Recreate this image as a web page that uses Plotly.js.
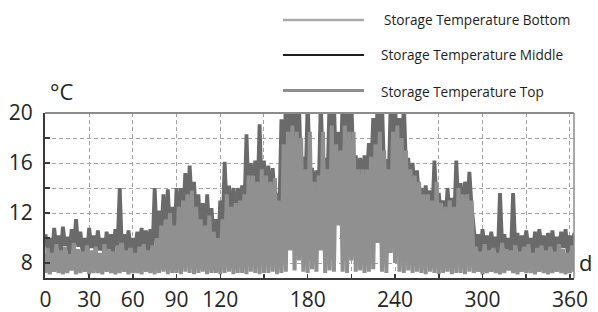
<!DOCTYPE html>
<html>
<head>
<meta charset="utf-8">
<script src="https://cdn.plot.ly/plotly-3.0.1.min.js"></script>
<style>
  html, body { margin: 0; padding: 0; background: #ffffff; }
  #chart { width: 598px; height: 312px; }
</style>
</head>
<body>
<div id="chart"></div>
<script>
// ---- data (one envelope sample every 3 days) ----
const days = [0,3,6,9,12,15,18,21,24,27,30,33,36,39,42,45,48,51,54,57,60,63,66,69,72,75,78,81,84,87,
  90,93,96,99,102,105,108,111,114,117,120,123,126,129,132,135,138,141,144,147,150,153,156,159,162,165,168,171,174,177,
  180,183,186,189,192,195,198,201,204,207,210,213,216,219,222,225,228,231,234,237,240,243,246,249,252,255,258,261,264,267,
  270,273,276,279,282,285,288,291,294,297,300,303,306,309,312,315,318,321,324,327,330,333,336,339,342,345,348,351,354,357,
  360,363];

// Storage Temperature Top: daily peak and trough
const topHigh = [10.3,10.0,10.8,10.2,10.9,10.1,10.7,11.5,10.5,10.0,10.8,10.2,10.6,10.0,10.5,10.3,10.7,14.0,10.3,10.6,
  10.0,10.5,10.8,10.6,10.7,14.0,12.2,13.5,13.9,12.5,14.0,14.0,15.2,15.8,14.5,13.5,12.8,13.5,12.4,11.5,
  13.0,16.1,14.2,14.0,14.0,14.2,18.3,16.0,16.2,19.1,16.2,15.8,15.6,13.6,19.5,21,21,21,21,16.5,
  21,15.6,15.4,21,16.4,21,21,18.5,21,21,21,16.6,16.4,16.6,17.6,19.6,21,21,16.3,21,
  21,19.6,21,16.4,16.0,15.4,14.0,14.2,13.8,16.2,13.6,13.0,14.0,13.2,16.2,14.4,14.5,15.3,10.8,10.3,
  10.7,10.2,10.5,10.1,13.6,10.3,10.0,13.6,10.4,10.2,10.6,10.0,10.5,10.7,10.2,10.4,10.6,10.1,10.5,10.7,
  10.2,10.4];
const topLow = [9.0,8.6,9.2,8.8,9.4,8.7,9.1,9.3,8.8,8.6,9.2,8.9,9.0,8.5,9.1,8.8,9.3,9.0,8.7,9.2,
  8.6,9.0,9.3,8.9,9.1,9.5,10.2,9.8,10.5,9.6,10.8,11.5,12.0,12.5,11.0,10.0,9.8,10.5,9.5,9.2,
  10.2,12.0,11.5,11.0,12.5,12.0,13.0,13.5,13.0,13.5,13.0,12.5,12.8,12.0,14.0,15.0,15.5,15.0,14.5,14.0,
  15.0,13.5,13.5,15.0,14.0,15.5,15.0,15.0,15.5,15.0,15.0,14.0,14.0,14.5,15.0,15.5,15.5,15.0,14.0,15.5,
  15.5,15.0,15.5,14.0,13.5,13.0,12.0,12.2,11.8,12.5,11.5,11.0,11.5,11.0,12.0,11.5,12.0,12.5,9.0,8.7,
  9.2,8.8,9.1,8.6,9.3,8.9,8.7,9.2,8.8,9.0,9.3,8.6,9.0,9.2,8.8,9.1,8.7,9.0,9.2,8.8,
  9.1,8.9];

// Storage Temperature Bottom: daily trough and peak
const bottomLow = [7.2,7.1,7.3,7.2,7.1,7.2,7.4,7.1,7.2,7.3,7.1,7.2,7.2,7.1,7.3,7.2,7.1,7.2,7.3,7.1,
  7.2,7.2,7.1,7.3,7.2,7.1,7.2,7.3,7.1,7.2,7.2,7.1,7.3,7.2,7.1,7.2,7.3,7.1,7.2,7.2,
  7.1,7.2,7.3,7.1,7.2,7.2,7.1,7.3,7.2,7.1,7.2,7.2,7.3,7.1,7.2,7.3,9.0,7.4,8.2,7.3,
  7.2,7.5,7.3,9.0,7.2,7.4,7.3,11.0,7.3,7.2,8.2,7.3,7.4,7.2,7.3,7.5,9.6,7.3,7.2,8.8,
  8.0,7.3,7.2,7.4,7.2,7.3,7.2,7.1,7.3,7.2,7.1,7.2,7.3,7.1,7.2,7.2,7.1,7.3,7.2,7.3,
  7.1,7.2,7.3,7.2,7.1,7.2,7.4,7.2,7.1,7.3,7.2,7.2,7.1,7.3,7.2,7.1,7.2,7.3,7.2,7.1,
  7.2,7.3];
const bottomHigh = [9.2,8.8,9.5,9.0,9.3,8.7,9.6,9.1,8.9,9.4,9.0,9.3,8.8,9.5,9.1,8.9,9.4,9.6,9.0,9.2,
  8.8,9.3,9.5,9.0,9.4,10.0,11.0,11.5,12.0,11.0,12.5,13.0,13.5,13.8,12.5,11.5,11.0,11.8,10.5,10.0,
  11.5,13.5,12.5,12.8,13.0,13.5,15.0,15.0,14.5,15.5,15.0,14.5,14.8,13.0,17.5,18.5,19.0,18.5,18.0,15.5,
  18.5,14.5,15.0,18.5,15.5,19.0,17.5,17.0,19.0,18.5,18.5,15.5,15.5,15.5,16.5,17.5,18.5,17.0,15.5,18.5,
  19.0,18.0,17.0,15.5,15.0,14.5,13.5,13.5,13.0,14.5,12.8,12.5,13.0,12.5,14.0,13.5,13.5,13.0,9.3,8.9,
  9.5,9.0,9.2,8.8,9.6,9.1,9.0,9.4,8.9,9.3,9.5,8.8,9.2,9.4,9.0,9.3,8.9,9.5,9.1,8.8,
  9.4,9.2];

// Storage Temperature Middle: daily trough and peak
const middleLow = [7.8,7.6,7.9,7.7,7.6,7.8,8.0,7.6,7.7,7.9,7.6,7.8,7.7,7.6,7.9,7.8,7.6,7.7,7.9,7.6,
  7.8,7.7,7.6,7.9,7.8,7.6,7.8,7.9,7.6,7.7,7.8,7.6,7.9,7.7,7.6,7.8,7.9,7.6,7.7,7.8,
  7.6,7.7,7.9,7.6,7.8,7.7,7.6,7.9,7.8,7.6,7.7,7.8,7.9,7.6,7.8,7.9,9.4,8.0,8.6,7.9,
  7.8,8.1,7.9,9.4,7.8,8.0,7.9,11.4,7.9,7.8,8.6,7.9,8.0,7.8,7.9,8.1,10.0,7.9,7.8,9.2,
  8.4,7.9,7.8,8.0,7.8,7.9,7.8,7.6,7.9,7.7,7.6,7.8,7.9,7.6,7.7,7.8,7.6,7.9,7.8,7.9,
  7.6,7.7,7.9,7.8,7.6,7.7,8.0,7.8,7.6,7.9,7.7,7.8,7.6,7.9,7.8,7.6,7.7,7.9,7.8,7.6,
  7.7,7.9];
const middleHigh = [8.8,8.4,9.0,8.6,8.9,8.3,9.1,8.7,8.5,9.0,8.6,8.9,8.4,9.0,8.7,8.5,9.0,9.1,8.6,8.8,
  8.4,8.9,9.0,8.6,9.0,9.5,10.5,11.0,11.5,10.5,12.0,12.5,13.0,13.2,12.0,11.0,10.5,11.2,10.0,9.5,
  11.0,13.0,12.0,12.3,12.5,13.0,14.5,14.5,14.0,15.0,14.5,14.0,14.3,12.5,17.0,18.0,18.5,18.0,17.5,15.0,
  18.0,14.0,14.5,18.0,15.0,18.5,17.0,16.5,18.5,18.0,18.0,15.0,15.0,15.0,16.0,17.0,18.0,16.5,15.0,18.0,
  18.5,17.5,16.5,15.0,14.5,14.0,13.0,13.0,12.5,14.0,12.3,12.0,12.5,12.0,13.5,13.0,13.0,12.5,8.9,8.5,
  9.1,8.6,8.8,8.4,9.2,8.7,8.6,9.0,8.5,8.9,9.1,8.4,8.8,9.0,8.6,8.9,8.5,9.1,8.7,8.4,
  9.0,8.8];

const seriesNames = ['Storage Temperature Bottom', 'Storage Temperature Middle', 'Storage Temperature Top'];
const xTicks = [0,30,60,90,120,150,180,210,240,270,300,330,360];
const xTickText = ['0','30','60','90','120','','180','','240','','300','','360'];
const yTicks = [8,10,12,14,16,18,20];
const yTickText = ['8','','12','','16','','20'];

// ---- build zig-zag traces (peak / trough alternating within each sample) ----
function zig(first, second, offset) {
  const x = [], y = [];
  for (let i = 0; i < days.length; i++) {
    x.push(days[i]); y.push(first[i]);
    x.push(days[i] + offset); y.push(second[i]);
  }
  return {x, y};
}
const topZ = zig(topHigh, topLow, 1.5);
const botZ = zig(bottomLow, bottomHigh, 1.5);
const midZ = zig(middleLow, middleHigh, 1.5);

const traces = [
  {x: midZ.x, y: midZ.y, name: seriesNames[1], type: 'scatter', mode: 'lines',
   line: {color: '#1a1a1a', width: 1, simplify: false}, showlegend: false, hoverinfo: 'skip'},
  {x: topZ.x, y: topZ.y, name: seriesNames[2], type: 'scatter', mode: 'lines',
   line: {color: '#6a6a6a', width: 3.8, simplify: false}, showlegend: false, hoverinfo: 'skip'},
  {x: botZ.x, y: botZ.y, name: seriesNames[0], type: 'scatter', mode: 'lines',
   line: {color: '#909090', width: 4, simplify: false}, showlegend: false, hoverinfo: 'skip'}
];

// plot area in pixels: left 45, right 574, top 113, bottom 278
const L = 45, R = 574, T = 113, B = 278;
const px = v => (v - L) / (R - L);
const py = v => (B - v) / (B - T);

const legendRows = [
  {name: seriesNames[0], y: 20, color: '#ababab', width: 2.5, tx: 382},
  {name: seriesNames[1], y: 55, color: '#1e1e1e', width: 2, tx: 379},
  {name: seriesNames[2], y: 90.5, color: '#8e8e8e', width: 3, tx: 379}
];

const shapes = [
  {type: 'line', xref: 'paper', yref: 'paper', x0: 0, x1: 1, y0: 1, y1: 1,
   line: {color: '#8c8c8c', width: 2}},
  {type: 'line', xref: 'paper', yref: 'paper', x0: 1, x1: 1, y0: 0, y1: 1,
   line: {color: '#8c8c8c', width: 1.5}}
];
const annotations = [
  {text: '°C', xref: 'paper', yref: 'paper', x: px(61), y: py(91), xanchor: 'center', yanchor: 'middle',
   showarrow: false, font: {family: 'Open Sans', size: 22, color: '#262626'}},
  {text: 'd', xref: 'paper', yref: 'paper', x: px(585), y: py(262), xanchor: 'center', yanchor: 'middle',
   showarrow: false, font: {family: 'Open Sans', size: 22, color: '#262626'}}
];
legendRows.forEach(r => {
  shapes.push({type: 'line', xref: 'paper', yref: 'paper', x0: px(283), x1: px(364), y0: py(r.y), y1: py(r.y),
    line: {color: r.color, width: r.width}});
  annotations.push({text: r.name, xref: 'paper', yref: 'paper', x: px(r.tx), y: py(Math.round(r.y)),
    xanchor: 'left', yanchor: 'middle', showarrow: false,
    font: {family: 'Open Sans', size: 13.6, color: '#1e1e1e'}});
});

const layout = {
  width: 598, height: 312,
  margin: {l: L, r: 598 - R, t: T, b: 312 - B, pad: 0},
  paper_bgcolor: '#ffffff', plot_bgcolor: '#ffffff',
  showlegend: false,
  xaxis: {
    range: [-0.3, 362.8], tickvals: xTicks, ticktext: xTickText,
    showgrid: true, gridcolor: '#a3a3a3', gridwidth: 1, griddash: '4px,3px',
    showline: true, linecolor: '#3a3a3a', linewidth: 2, zeroline: false,
    ticks: 'inside', ticklen: 4, tickcolor: '#3a3a3a', tickwidth: 1.5,
    ticklabelstandoff: 2,
    tickfont: {family: 'Open Sans', size: 21, color: '#262626'}
  },
  yaxis: {
    range: [6.8, 20], tickvals: yTicks, ticktext: yTickText,
    showgrid: true, gridcolor: '#a3a3a3', gridwidth: 1, griddash: '4px,3px',
    showline: true, linecolor: '#3a3a3a', linewidth: 2, zeroline: false,
    ticks: 'inside', ticklen: 5, tickcolor: '#3a3a3a', tickwidth: 1.5,
    ticklabelstandoff: 6,
    tickfont: {family: 'Open Sans', size: 21, color: '#262626'}
  },
  shapes: shapes,
  annotations: annotations
};

Plotly.newPlot('chart', traces, layout, {staticPlot: true, displayModeBar: false});
</script>
</body>
</html>
